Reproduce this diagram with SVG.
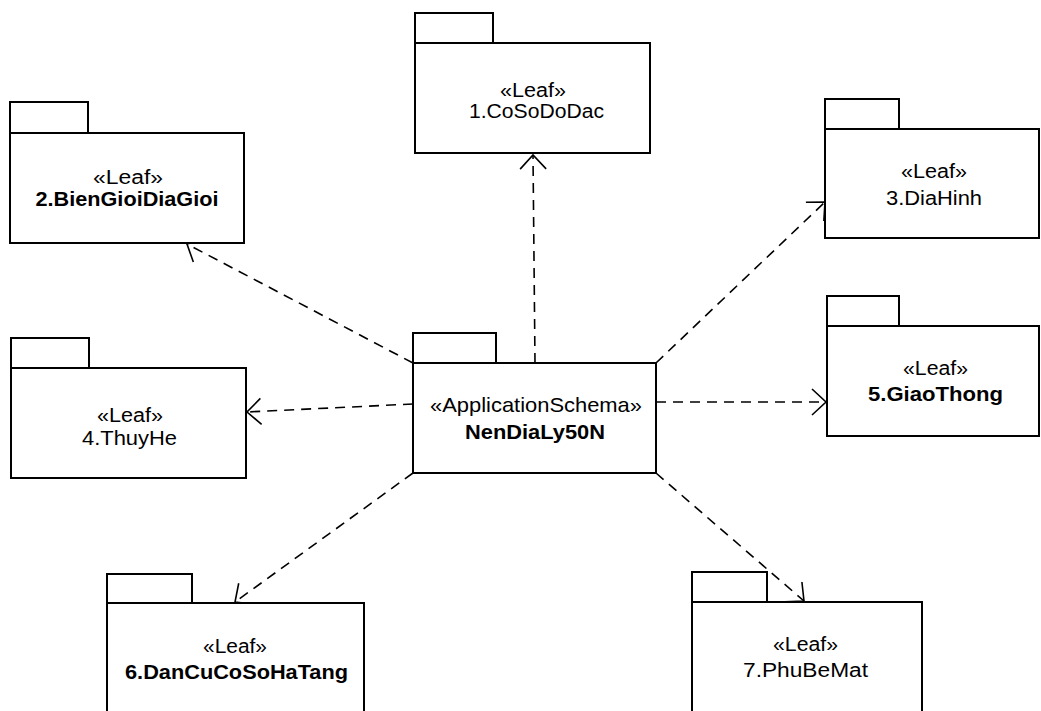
<svg xmlns="http://www.w3.org/2000/svg" width="1041" height="711" viewBox="0 0 1041 711">
<style>
.pk{fill:#fff;stroke:#000;stroke-width:2}
.t{font-family:"Liberation Sans",Arial,sans-serif;font-size:20px;fill:#000;text-anchor:middle}
.big{font-size:21px}
.b{font-weight:bold}
.c{fill:none;stroke:#000;stroke-width:1.6;stroke-dasharray:10 7}
</style>
<defs>
<marker id="arr" viewBox="-16 -16 18 32" refX="0" refY="0" markerWidth="18" markerHeight="32" markerUnits="userSpaceOnUse" orient="auto">
<path d="M-14,-13 L0,0 L-14,13" fill="none" stroke="#000" stroke-width="1.6"/>
</marker>
</defs>
<rect width="1041" height="711" fill="#fff"/>
<g id="connectors">
<line class="c" x1="535" y1="363" x2="533" y2="155" marker-end="url(#arr)"/>
<line class="c" x1="413" y1="363" x2="187" y2="244" marker-end="url(#arr)"/>
<line class="c" x1="656" y1="363" x2="825" y2="202" marker-end="url(#arr)"/>
<line class="c" x1="413" y1="404" x2="247" y2="412" marker-end="url(#arr)"/>
<line class="c" x1="656" y1="402" x2="826" y2="402" marker-end="url(#arr)"/>
<line class="c" x1="413" y1="473" x2="235" y2="602" marker-end="url(#arr)"/>
<line class="c" x1="656" y1="473" x2="804" y2="601" marker-end="url(#arr)"/>
</g>
<g id="p1">
<rect class="pk" x="415" y="13" width="78" height="30"/>
<rect class="pk" x="415" y="43" width="235" height="110"/>
<text class="t" x="533" y="97" textLength="66" lengthAdjust="spacingAndGlyphs">«Leaf»</text>
<text class="t" x="536.5" y="118" textLength="135" lengthAdjust="spacingAndGlyphs">1.CoSoDoDac</text>
</g>
<g id="p2">
<rect class="pk" x="10" y="102" width="78" height="31"/>
<rect class="pk" x="10" y="133" width="234" height="110"/>
<text class="t" x="128" y="184" textLength="70" lengthAdjust="spacingAndGlyphs">«Leaf»</text>
<text class="t b" x="127" y="206" textLength="183" lengthAdjust="spacingAndGlyphs">2.BienGioiDiaGioi</text>
</g>
<g id="center">
<rect class="pk" x="413" y="333" width="83" height="30"/>
<rect class="pk" x="413" y="363" width="243" height="110"/>
<text class="t big" x="536" y="412" textLength="212" lengthAdjust="spacingAndGlyphs">«ApplicationSchema»</text>
<text class="t big b" x="535" y="439" textLength="140" lengthAdjust="spacingAndGlyphs">NenDiaLy50N</text>
</g>
<g id="p3">
<rect class="pk" x="825" y="99" width="74" height="30"/>
<rect class="pk" x="825" y="129" width="214" height="109"/>
<text class="t" x="934" y="178" textLength="66" lengthAdjust="spacingAndGlyphs">«Leaf»</text>
<text class="t" x="934" y="205" textLength="96" lengthAdjust="spacingAndGlyphs">3.DiaHinh</text>
</g>
<g id="p4">
<rect class="pk" x="11" y="338" width="78" height="30"/>
<rect class="pk" x="11" y="368" width="235" height="110"/>
<text class="t" x="130" y="422" textLength="66" lengthAdjust="spacingAndGlyphs">«Leaf»</text>
<text class="t" x="129.5" y="445" textLength="95" lengthAdjust="spacingAndGlyphs">4.ThuyHe</text>
</g>
<g id="p5">
<rect class="pk" x="827" y="296" width="72" height="30"/>
<rect class="pk" x="827" y="326" width="212" height="110"/>
<text class="t" x="935.5" y="375" textLength="65" lengthAdjust="spacingAndGlyphs">«Leaf»</text>
<text class="t b" x="935.5" y="401" textLength="135" lengthAdjust="spacingAndGlyphs">5.GiaoThong</text>
</g>
<g id="p6">
<rect class="pk" x="107" y="574" width="85" height="29"/>
<rect class="pk" x="107" y="603" width="257" height="110"/>
<text class="t" x="235" y="653" textLength="64" lengthAdjust="spacingAndGlyphs">«Leaf»</text>
<text class="t b" x="236.5" y="679" textLength="223" lengthAdjust="spacingAndGlyphs">6.DanCuCoSoHaTang</text>
</g>
<g id="p7">
<rect class="pk" x="692" y="572" width="75" height="30"/>
<rect class="pk" x="692" y="602" width="230" height="110"/>
<text class="t" x="805.5" y="651" textLength="65" lengthAdjust="spacingAndGlyphs">«Leaf»</text>
<text class="t" x="805.5" y="677" textLength="125" lengthAdjust="spacingAndGlyphs">7.PhuBeMat</text>
</g>
</svg>
